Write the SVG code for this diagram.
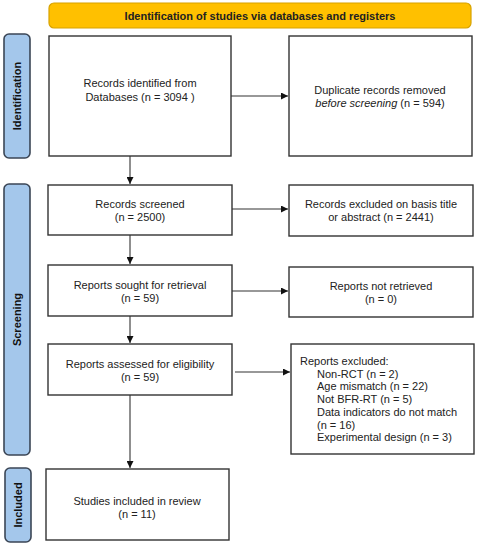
<svg xmlns="http://www.w3.org/2000/svg" width="480" height="550" viewBox="0 0 480 550">
<style>
text{font-family:"Liberation Sans",Arial,sans-serif;font-size:11px;fill:#222}
.box{fill:#fff;stroke:#333;stroke-width:1.4}
.side{fill:#A4C7EB;stroke:#3b4656;stroke-width:1.6}
.sidet{font-weight:bold;font-size:11px;fill:#111}
.c{text-anchor:middle}
.ln{stroke:#333;stroke-width:1.1;fill:none}
</style>
<defs>
<marker id="ah" viewBox="0 0 10 10" refX="10" refY="5" markerWidth="7" markerHeight="7" markerUnits="userSpaceOnUse" orient="auto">
<path d="M0,0 L10,5 L0,10 z" fill="#111"/>
</marker>
</defs>
<rect width="480" height="550" fill="#fff"/>
<g id="header">
<rect x="49" y="3" width="422" height="25" rx="5" fill="#FFC000" stroke="#D7A200" stroke-width="1.2"/>
<text x="260" y="19.5" class="c" style="font-weight:bold">Identification of studies via databases and registers</text>
</g>
<g id="side-identification">
<rect class="side" x="4" y="34" width="26" height="124" rx="5"/>
<text class="sidet c" transform="translate(21,96) rotate(-90)">Identification</text>
</g>
<g id="side-screening">
<rect class="side" x="4" y="184" width="26" height="271" rx="5"/>
<text class="sidet c" transform="translate(21,319.5) rotate(-90)">Screening</text>
</g>
<g id="side-included">
<rect class="side" x="5" y="468" width="26" height="74" rx="5"/>
<text class="sidet c" transform="translate(22,505) rotate(-90)">Included</text>
</g>
<g id="n-identified">
<rect class="box" x="49" y="36" width="182" height="120"/>
<text x="140" y="87" class="c">Records identified from</text>
<text x="140" y="101" class="c">Databases (n = 3094 )</text>
</g>
<g id="n-duplicates">
<rect class="box" x="289" y="36" width="183" height="120"/>
<text x="380" y="94" class="c">Duplicate records removed</text>
<text x="380" y="107" class="c"><tspan font-style="italic">before screening</tspan> (n = 594)</text>
</g>
<g id="n-screened">
<rect class="box" x="48" y="185" width="184" height="50"/>
<text x="140" y="208" class="c">Records screened</text>
<text x="140" y="221" class="c">(n = 2500)</text>
</g>
<g id="n-excluded-title">
<rect class="box" x="289" y="185" width="184" height="51"/>
<text x="381" y="208" class="c">Records excluded on basis title</text>
<text x="381" y="221" class="c">or abstract (n = 2441)</text>
</g>
<g id="n-sought">
<rect class="box" x="48" y="265" width="184" height="51"/>
<text x="140" y="289" class="c">Reports sought for retrieval</text>
<text x="140" y="302" class="c">(n = 59)</text>
</g>
<g id="n-not-retrieved">
<rect class="box" x="289" y="267" width="184" height="50"/>
<text x="381" y="290" class="c">Reports not retrieved</text>
<text x="381" y="303" class="c">(n = 0)</text>
</g>
<g id="n-assessed">
<rect class="box" x="48" y="344" width="184" height="51"/>
<text x="140" y="368" class="c">Reports assessed for eligibility</text>
<text x="140" y="381" class="c">(n = 59)</text>
</g>
<g id="n-reports-excluded">
<rect class="box" x="291" y="344" width="183" height="110"/>
<text x="300" y="365">Reports excluded:</text>
<text x="317" y="377.7">Non-RCT (n = 2)</text>
<text x="317" y="390.4">Age mismatch (n = 22)</text>
<text x="317" y="403.1">Not BFR-RT (n = 5)</text>
<text x="317" y="415.8">Data indicators do not match</text>
<text x="317" y="428.5">(n = 16)</text>
<text x="317" y="441.2">Experimental design (n = 3)</text>
</g>
<g id="n-included">
<rect class="box" x="46" y="469" width="183" height="71"/>
<text x="137" y="505" class="c">Studies included in review</text>
<text x="137" y="518" class="c">(n = 11)</text>
</g>
<g id="connectors">
<line class="ln" x1="231" y1="96" x2="288" y2="96" marker-end="url(#ah)"/>
<line class="ln" x1="130" y1="156" x2="130" y2="184" marker-end="url(#ah)"/>
<line class="ln" x1="232" y1="209" x2="288" y2="209" marker-end="url(#ah)"/>
<line class="ln" x1="130" y1="235" x2="130" y2="264" marker-end="url(#ah)"/>
<line class="ln" x1="232" y1="291" x2="288" y2="291" marker-end="url(#ah)"/>
<line class="ln" x1="130" y1="316" x2="130" y2="343" marker-end="url(#ah)"/>
<line class="ln" x1="235" y1="372" x2="290" y2="372" marker-end="url(#ah)"/>
<line class="ln" x1="130" y1="395" x2="130" y2="468" marker-end="url(#ah)"/>
</g>
</svg>
